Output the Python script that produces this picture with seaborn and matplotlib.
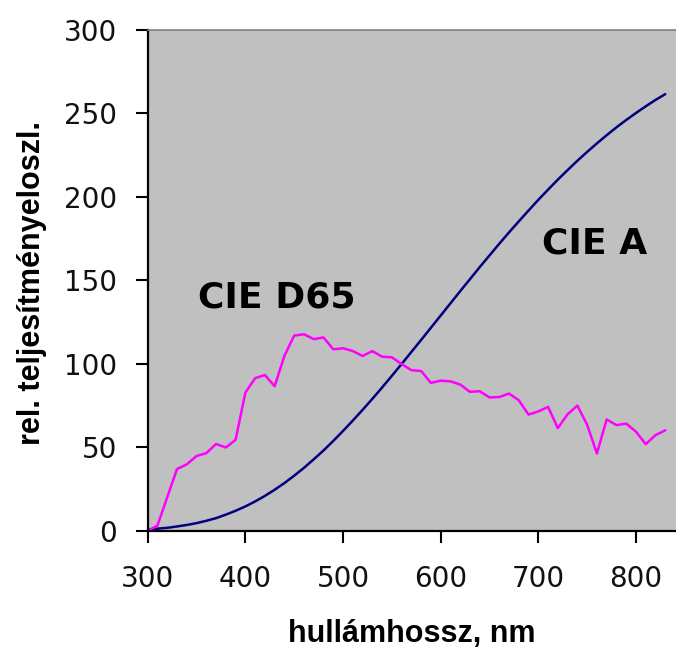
import pandas as pd
import matplotlib.pyplot as plt
import seaborn as sns

# wavelengths in nm (10 nm steps)
wavelengths = list(range(300, 840, 10))

# CIE A relative spectral power
cie_a = [0.9, 1.4, 1.9, 2.7, 3.6, 4.7, 6.1, 7.7, 9.8, 12.1,
         14.7, 17.7, 21.0, 24.7, 28.7, 33.1, 37.8, 42.9, 48.2, 53.9,
         59.9, 66.1, 72.5, 79.1, 85.9, 92.9, 100.0, 107.2, 114.4, 121.7,
         129.0, 136.3, 143.6, 150.8, 158.0, 165.0, 172.0, 178.8, 185.4, 191.9,
         198.3, 204.4, 210.4, 216.1, 221.7, 227.0, 232.1, 237.0, 241.7, 246.1,
         250.3, 254.3, 258.1, 261.6]

# CIE D65 relative spectral power
cie_d65 = [0.0, 3.3, 20.2, 37.1, 39.9, 44.9, 46.6, 52.1, 50.0, 54.6,
           82.8, 91.5, 93.4, 86.7, 104.9, 117.0, 117.8, 114.9, 115.9, 108.8,
           109.4, 107.8, 104.8, 107.7, 104.4, 104.0, 100.0, 96.3, 95.8, 88.7,
           90.0, 89.6, 87.7, 83.3, 83.7, 80.0, 80.2, 82.3, 78.3, 69.7,
           71.6, 74.3, 61.6, 69.9, 75.1, 63.6, 46.4, 66.8, 63.4, 64.3,
           59.5, 52.0, 57.4, 60.3]

df = pd.DataFrame({
    'nm': wavelengths * 2,
    'value': cie_a + cie_d65,
    'source': ['CIE A'] * len(wavelengths) + ['CIE D65'] * len(wavelengths),
})

sns.set_style("white")
plt.rcParams['font.family'] = ['DejaVu Sans']
plt.rcParams['text.color'] = 'black'
plt.rcParams['axes.labelcolor'] = 'black'

fig = plt.figure(figsize=(6.76, 6.52), dpi=100)
ax = fig.add_axes([0.2185, 0.1856, 0.7815, 0.7684])
ax.set_facecolor('#C0C0C0')

sns.lineplot(data=df, x='nm', y='value', hue='source',
             palette={'CIE A': '#000080', 'CIE D65': '#FF00FF'},
             linewidth=1.8, legend=False, ax=ax)

ax.set_xlim(300, 841)
ax.set_ylim(0, 300)
ax.set_xticks([300, 400, 500, 600, 700, 800])
ax.set_yticks([0, 50, 100, 150, 200, 250, 300])

ax.tick_params(axis='y', direction='out', length=8.5, width=1.5, pad=13.5,
               labelsize=20, color='black', labelcolor='#111111', left=True)
ax.tick_params(axis='x', direction='out', length=8.5, width=1.5, pad=16,
               labelsize=20, color='black', labelcolor='#111111', bottom=True)

for side in ['left', 'bottom']:
    ax.spines[side].set_color('black')
    ax.spines[side].set_linewidth(1.6)
ax.spines['top'].set_color('#808080')
ax.spines['top'].set_linewidth(1.2)
ax.spines['right'].set_visible(False)

ax.set_xlabel('hullámhossz, nm', fontsize=22, fontweight='bold', color='black',
              family=['Liberation Sans', 'DejaVu Sans'])
ax.set_ylabel('rel. teljesítményeloszl.', fontsize=22, fontweight='bold', color='black',
              family=['Liberation Sans', 'DejaVu Sans'])
ax.xaxis.set_label_coords(0.5, -0.175)
ax.yaxis.set_label_coords(-0.19, 0.495)

ax.text(351, 140, 'CIE D65', fontsize=26, fontweight='bold', color='black',
        va='center', ha='left')
ax.text(704, 172, 'CIE A', fontsize=26, fontweight='bold', color='black',
        va='center', ha='left')

plt.savefig('out.png', dpi=100)
plt.close()
